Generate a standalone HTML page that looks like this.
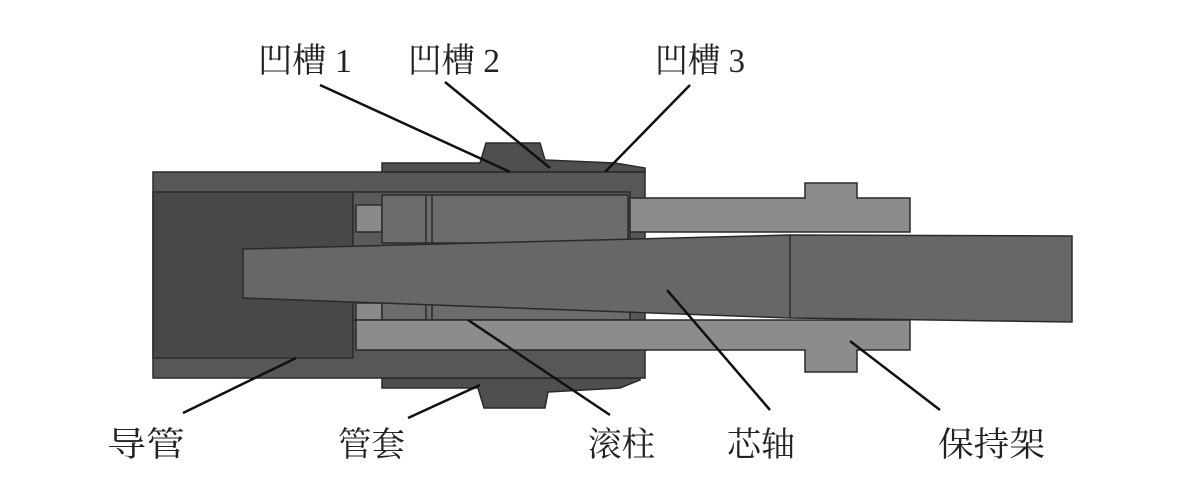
<!DOCTYPE html>
<html><head><meta charset="utf-8"><style>
html,body{margin:0;padding:0;background:#fff;width:1186px;height:498px;overflow:hidden}
text{font-family:"Liberation Serif","Noto Serif CJK SC",serif;font-size:34px;fill:#222}
</style></head><body>
<svg width="1186" height="498" viewBox="0 0 1186 498" xmlns="http://www.w3.org/2000/svg">
<g stroke="#2a2a2a" stroke-width="1.5">
<!-- sleeve top -->
<path d="M382 172 L382 163 L480 163 L486 143 L540 143 L545 160 L615 163 L645 168 L645 172 Z" fill="#4f4f4f"/>
<!-- sleeve bottom -->
<path d="M382 378 L382 388 L478 388 L484 408 L545 408 L548 392 L620 388 L640 380 L640 378 Z" fill="#4f4f4f"/>
<!-- guide tube -->
<path d="M153 172 L645 172 L645 378 L153 378 Z" fill="#575757"/>
<rect x="153" y="192" width="200" height="166" fill="#484848"/>
<!-- inner region -->
<rect x="353" y="192" width="277" height="128" fill="#5a5a5a"/>
<!-- rollers top -->
<rect x="356" y="205" width="26" height="27" fill="#8a8a8a"/>
<path d="M382 195 L628 195 L628 243 L382 243 Z" fill="#6c6c6c"/>
<line x1="426" y1="195" x2="426" y2="243"/><line x1="432" y1="195" x2="432" y2="243"/>
<!-- rollers bottom -->
<rect x="356" y="303" width="26" height="17" fill="#8a8a8a"/>
<rect x="382" y="303" width="248" height="17" fill="#6c6c6c"/>
<line x1="426" y1="303" x2="426" y2="320"/><line x1="432" y1="303" x2="432" y2="320"/>
<!-- retainer top -->
<path d="M630 198 L805 198 L805 183 L857 183 L857 198 L910 198 L910 232 L630 232 Z" fill="#8c8c8c"/>
<!-- retainer bottom -->
<path d="M356 320 L910 320 L910 350 L857 350 L857 372 L805 372 L805 350 L356 350 Z" fill="#8c8c8c"/>
<!-- core shaft -->
<path d="M243 249 L790 235 L1072 236 L1072 322 L790 318 L243 298 Z" fill="#676767"/>
<line x1="790" y1="235" x2="790" y2="318"/>
</g>
<g stroke="#111" stroke-width="2.5">
<line x1="320" y1="85" x2="510" y2="172"/>
<line x1="445" y1="82" x2="550" y2="168"/>
<line x1="690" y1="85" x2="605" y2="172"/>
<line x1="183" y1="413" x2="296" y2="358"/>
<line x1="408" y1="418" x2="480" y2="385"/>
<line x1="610" y1="415" x2="468" y2="320"/>
<line x1="770" y1="410" x2="667" y2="290"/>
<line x1="940" y1="410" x2="850" y2="341"/>
</g>
<text x="258" y="72" textLength="94" lengthAdjust="spacingAndGlyphs">凹槽 1</text>
<text x="408" y="72" textLength="92" lengthAdjust="spacingAndGlyphs">凹槽 2</text>
<text x="655" y="72" textLength="90" lengthAdjust="spacingAndGlyphs">凹槽 3</text>
<text x="107" y="456" textLength="78" lengthAdjust="spacingAndGlyphs">导管</text>
<text x="338" y="456" textLength="67" lengthAdjust="spacingAndGlyphs">管套</text>
<text x="588" y="456" textLength="67" lengthAdjust="spacingAndGlyphs">滚柱</text>
<text x="727" y="456" textLength="68" lengthAdjust="spacingAndGlyphs">芯轴</text>
<text x="938" y="456" textLength="107" lengthAdjust="spacingAndGlyphs">保持架</text>
</svg>
</body></html>
